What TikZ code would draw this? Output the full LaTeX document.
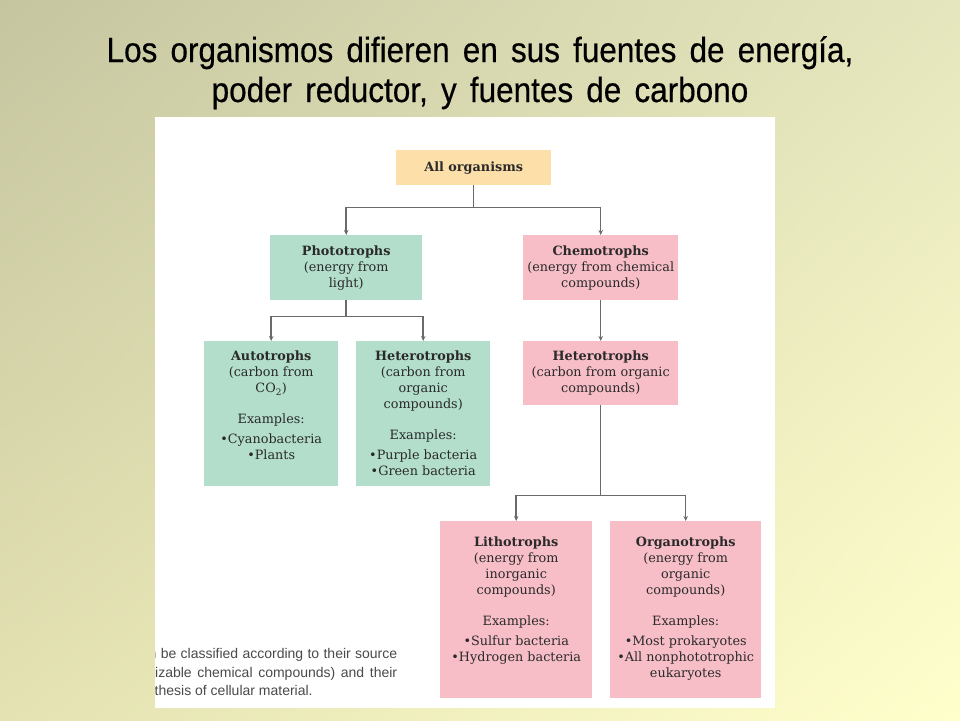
\documentclass[tikz,border=0pt]{standalone}
\usepackage{fontspec}
\usetikzlibrary{arrows.meta,calc,shadings}
\newfontfamily\titlefont[FakeStretch=0.9,WordSpace=1.5,FakeBold=0.4]{Liberation Sans}
\newfontfamily\boxfont{DejaVu Serif}
\newfontfamily\capfont{Liberation Sans}
\definecolor{bgUL}{HTML}{C5C5A0}
\definecolor{bgUR}{HTML}{E6E6BE}
\definecolor{bgLL}{HTML}{E4E2B2}
\definecolor{bgLR}{HTML}{FFFFCC}
\definecolor{boxorange}{HTML}{FDDFA9}
\definecolor{boxgreen}{HTML}{B2DECB}
\definecolor{boxpink}{HTML}{F7BEC7}
\definecolor{txtdark}{HTML}{2A2A2A}
\definecolor{linegray}{HTML}{6A6A6A}
\definecolor{capgray}{HTML}{4A4A4A}
\begin{document}
\begin{tikzpicture}[x=1pt,y=-1pt,
  box/.style={draw=none,inner sep=0pt,anchor=north west,align=center,
    text=txtdark,font=\boxfont\fontsize{12.8}{16}\selectfont},
  txt/.style={inner sep=0pt,anchor=north,align=center,text=txtdark,
    font=\boxfont\fontsize{12.8}{16}\selectfont},
  conn/.style={draw=linegray,line width=1.5pt},
  arr/.style={conn,-{Stealth[length=5pt,width=4.5pt]}},
  captxt/.style={anchor=base west,inner sep=0pt,text=capgray,font=\capfont\fontsize{14}{19}\selectfont}]
\useasboundingbox (0,0) rectangle (960,720);
\shade[upper left=bgUL,upper right=bgUR,lower left=bgLL,lower right=bgLR] (0,0) rectangle (960,720);
% title
\node[font=\titlefont\fontsize{35}{40}\selectfont,anchor=base] (title1) at (480,62) {Los organismos difieren en sus fuentes de energía,};
\node[font=\titlefont\fontsize{35}{40}\selectfont,anchor=base] (title2) at (480,102) {poder reductor, y fuentes de carbono};
% panel
\fill[white] (155,117) rectangle (775,708);
% boxes
\node[box,fill=boxorange,minimum width=155pt,minimum height=35pt] (all) at (396,150) {\bfseries All organisms};
\node[box,fill=boxgreen,minimum width=152pt,minimum height=65pt] (photo) at (270,235) {{\bfseries Phototrophs}\\(energy from\\light)};
\node[box,fill=boxpink,minimum width=155pt,minimum height=65pt] (chemo) at (523,235) {{\bfseries Chemotrophs}\\(energy from chemical\\compounds)};
\node[box,fill=boxgreen,minimum width=134pt,minimum height=145pt] (auto) at (204,341) {};
\node[box,fill=boxgreen,minimum width=134pt,minimum height=145pt] (hetg) at (356,341) {};
\node[box,fill=boxpink,minimum width=155pt,minimum height=64pt] (hetp) at (523,341) {{\bfseries Heterotrophs}\\(carbon from organic\\compounds)};
\node[box,fill=boxpink,minimum width=152pt,minimum height=177pt] (litho) at (440,521) {};
\node[box,fill=boxpink,minimum width=151pt,minimum height=177pt] (organo) at (610,521) {};
% texts of tall boxes
\node[txt] (autoT) at ($(auto.north)+(0,10)$) {{\bfseries Autotrophs}\\(carbon from\\CO\textsubscript{2})\\[15pt]Examples:\\[4pt]\textbullet Cyanobacteria\\\textbullet Plants};
\node[txt] (hetgT) at ($(hetg.north)+(0,10)$) {{\bfseries Heterotrophs}\\(carbon from\\organic\\compounds)\\[15pt]Examples:\\[4pt]\textbullet Purple bacteria\\\textbullet Green bacteria};
\node[txt] (lithoT) at ($(litho.north)+(0,16)$) {{\bfseries Lithotrophs}\\(energy from\\inorganic\\compounds)\\[15pt]Examples:\\[4pt]\textbullet Sulfur bacteria\\\textbullet Hydrogen bacteria};
\node[txt] (organoT) at ($(organo.north)+(0,16)$) {{\bfseries Organotrophs}\\(energy from\\organic\\compounds)\\[15pt]Examples:\\[4pt]\textbullet Most prokaryotes\\\textbullet All nonphototrophic\\eukaryotes};
% connectors
\draw[conn] (all.south) -- ++(0,22) coordinate (j1);
\draw[arr] (j1) -| (photo.north);
\draw[arr] (j1) -| (chemo.north);
\draw[conn] (photo.south) -- ++(0,16) coordinate (j2);
\draw[arr] (j2) -| (auto.north);
\draw[arr] (j2) -| (hetg.north);
\draw[arr] (chemo.south) -- (hetp.north);
\draw[conn] (hetp.south) -- ++(0,90) coordinate (j3);
\draw[arr] (j3) -| (litho.north);
\draw[arr] (j3) -| (organo.north);
% caption fragment
\begin{scope}
\clip (155,117) rectangle (775,708);
\node[captxt] (cap1) at (148.5,658) {\makebox[248.5pt][s]{n be classified according to their source}};
\node[captxt] (cap2) at (155,677) {\makebox[242pt][s]{izable chemical compounds) and their}};
\node[captxt] (cap3) at (154.5,695) {thesis of cellular material.};
\end{scope}
\end{tikzpicture}
\end{document}
